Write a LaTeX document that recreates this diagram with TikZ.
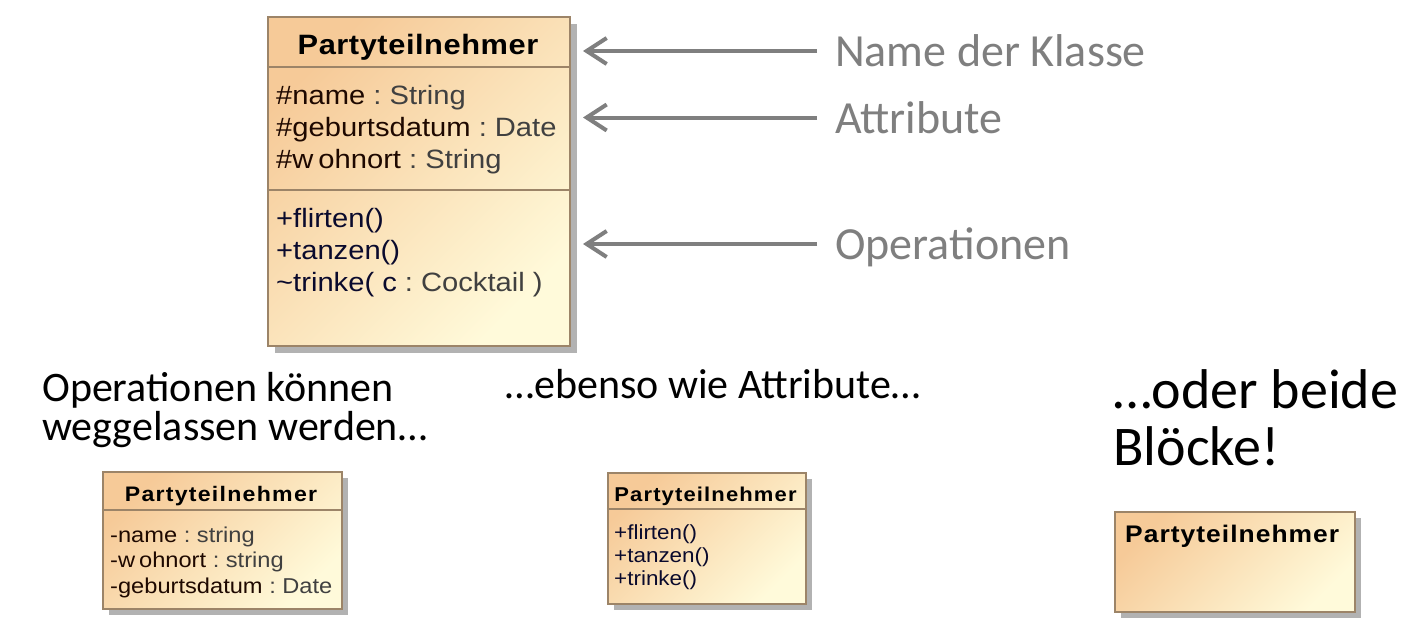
\documentclass[tikz,border=0pt]{standalone}
\usepackage{fontspec}
\setmainfont{Liberation Sans}
\newfontfamily\umlfont[FakeStretch=1.1]{Liberation Sans}
\newfontfamily\calfont{Carlito}
\usetikzlibrary{arrows.meta,shadows}
\definecolor{boxorange}{RGB}{246,202,152}
\definecolor{boxyellow}{RGB}{255,250,218}
\definecolor{boxline}{RGB}{156,132,104}
\definecolor{shadowgray}{RGB}{178,178,178}
\definecolor{attrname}{RGB}{30,8,0}
\definecolor{typegray}{RGB}{64,64,64}
\definecolor{opname}{RGB}{10,10,45}
\definecolor{labgray}{RGB}{127,127,127}
\begin{document}
\begin{tikzpicture}[x=1pt,y=-1pt,
  classbox/.style={draw=boxline, line width=2.4pt, top color=boxorange, bottom color=boxyellow, shading angle=45, inner sep=0pt,
    general shadow={fill=shadowgray, shadow xshift=#1, shadow yshift=-#1}},
  divider/.style={draw=boxline, line width=2.2pt},
  utext/.style={anchor=base west, inner sep=0pt},
  utitle/.style={anchor=base, inner sep=0pt},
  blacktext/.style={anchor=base west, inner sep=0pt, text=black},
  lab/.style={anchor=base west, inner xsep=18pt, inner ysep=0pt, text=labgray, font=\calfont\fontsize{46}{46}\selectfont},
  pointer/.style={draw=labgray, line width=4pt, -{Straight Barb[length=20pt,width=26pt]}}
]
\path[fill=white, use as bounding box] (0,0) rectangle (1426,634);

% ---------- big class ----------
\node[classbox=7pt, minimum width=302pt, minimum height=329pt] (big) at (419,181.5) {};
\draw[divider] (big.west |- 0,67) -- (big.east |- 0,67);
\draw[divider] (big.west |- 0,190) -- (big.east |- 0,190);
\node[utitle, font=\umlfont\bfseries\fontsize{28}{28}\selectfont\addfontfeature{LetterSpace=2}] (bigtitle) at (418,55) {Partyteilnehmer};
\begin{scope}[every node/.append style={font=\umlfont\fontsize{26.5}{26.5}\selectfont}]
\node[utext] (a1) at (276,104) {\textcolor{attrname}{\#name} \textcolor{typegray}{:\ String}};
\node[utext] (a2) at (276,136) {\textcolor{attrname}{\#geburtsdatum} \textcolor{typegray}{:\ Date}};
\node[utext] (a3) at (276,168) {\textcolor{attrname}{\#w\kern5pt ohnort} \textcolor{typegray}{:\ String}};
\node[utext] (o1) at (276,227) {\textcolor{opname}{+flirten()}};
\node[utext] (o2) at (276,259) {\textcolor{opname}{+tanzen()}};
\node[utext] (o3) at (276,291) {\textcolor{opname}{\textasciitilde trinke(\ c} \textcolor{typegray}{:\ Cocktail\ )}};
\end{scope}

% ---------- labels and arrows ----------
\coordinate (p1) at (583,51);
\coordinate (p2) at (583,117.5);
\coordinate (p3) at (583,244);
\node[lab] (lab1) at (817,66.5) {Name der Klasse};
\node[lab] (lab2) at (817,133) {Attribute};
\node[lab] (lab3) at (817,259.5) {Operationen};
\draw[pointer] (lab1.west |- p1) -- (p1);
\draw[pointer] (lab2.west |- p2) -- (p2);
\draw[pointer] (lab3.west |- p3) -- (p3);

% ---------- captions ----------
\begin{scope}[every node/.append style={font=\calfont\fontsize{42}{42}\selectfont}]
\node[blacktext] (c1) at (42,401) {Operationen können};
\node[blacktext] (c2) at (42,440) {weggelassen werden…};
\node[blacktext] (c3) at (505,398) {…ebenso wie Attribute…};
\end{scope}
\begin{scope}[every node/.append style={font=\calfont\fontsize{56}{56}\selectfont}]
\node[blacktext] (c4) at (1113,408) {…oder beide};
\node[blacktext] (c5) at (1113,465) {Blöcke!};
\end{scope}

% ---------- left small class (attributes only) ----------
\node[classbox=6pt, minimum width=239pt, minimum height=137pt] (lbox) at (222.5,540.5) {};
\draw[divider] (lbox.west |- 0,510) -- (lbox.east |- 0,510);
\node[utitle, font=\umlfont\bfseries\fontsize{21}{21}\selectfont\addfontfeature{LetterSpace=6}] (ltitle) at (221,501) {Partyteilnehmer};
\begin{scope}[every node/.append style={font=\umlfont\fontsize{21.5}{21.5}\selectfont}]
\node[utext] (la1) at (110,542) {\textcolor{attrname}{-name} \textcolor{typegray}{:\ string}};
\node[utext] (la2) at (110,567) {\textcolor{attrname}{-w\kern4pt ohnort} \textcolor{typegray}{:\ string}};
\node[utext] (la3) at (110,593) {\textcolor{attrname}{-geburtsdatum} \textcolor{typegray}{:\ Date}};
\end{scope}

% ---------- middle small class (operations only) ----------
\node[classbox=6pt, minimum width=198pt, minimum height=131pt] (mbox) at (707,538.5) {};
\draw[divider] (mbox.west |- 0,509) -- (mbox.east |- 0,509);
\node[utitle, font=\umlfont\bfseries\fontsize{20}{20}\selectfont\addfontfeature{LetterSpace=5.7}] (mtitle) at (705.5,501) {Partyteilnehmer};
\begin{scope}[every node/.append style={font=\umlfont\fontsize{20.4}{20.4}\selectfont, text=opname}]
\node[utext] (mo1) at (614,539) {+flirten()};
\node[utext] (mo2) at (614,562) {+tanzen()};
\node[utext] (mo3) at (614,585) {+trinke()};
\end{scope}

% ---------- right small class (name only) ----------
\node[classbox=6pt, minimum width=240pt, minimum height=100pt] (rbox) at (1235,562) {};
\node[utext, font=\umlfont\bfseries\fontsize{24}{24}\selectfont\addfontfeature{LetterSpace=4.3}] (rtitle) at (1125,542) {Partyteilnehmer};
\end{tikzpicture}
\end{document}
